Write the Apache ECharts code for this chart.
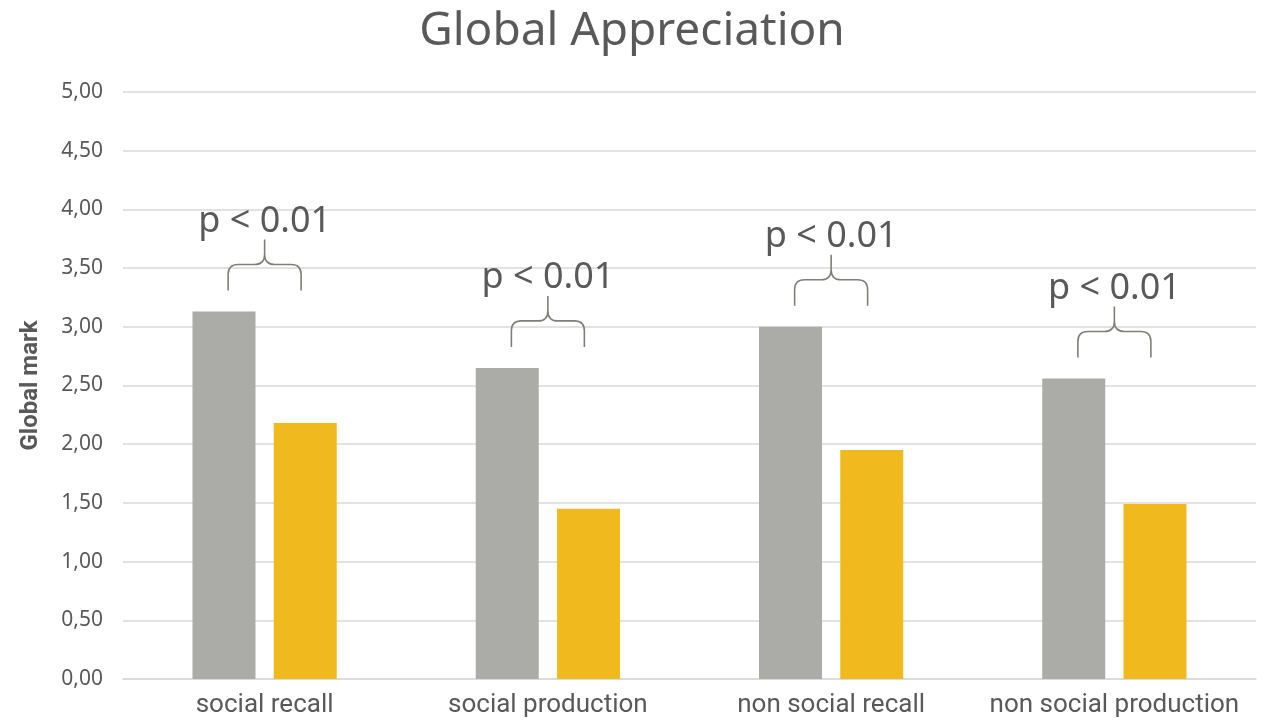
<!DOCTYPE html>
<html>
<head>
<meta charset="utf-8">
<title>Global Appreciation</title>
<script src="https://cdn.jsdelivr.net/npm/echarts@6/dist/echarts.min.js"></script>
<style>
  html, body { margin: 0; padding: 0; background: #ffffff; }
  #chart { width: 1264px; height: 727px; }
</style>
</head>
<body>
<div id="chart"></div>
<script>
// Categories and mean marks for the two groups
const categories = ['social recall', 'social production', 'non social recall', 'non social production'];
const groupA = [3.13, 2.65, 3.00, 2.56];
const groupB = [2.18, 1.45, 1.95, 1.49];
const significance = ['p < 0.01', 'p < 0.01', 'p < 0.01', 'p < 0.01'];
const yTicks = { min: 0, max: 5, step: 0.5 };

const TEXT = '#595959';
const GRID = '#D9D9D9';
const GREY = '#ABABA7';
const GOLD = '#F0BA1F';
const ROUND_FONT = '"Noto Sans", "Open Sans", sans-serif';
const NARROW_FONT = '"Roboto", "Noto Sans", sans-serif';

const chart = echarts.init(document.getElementById('chart'), null, { renderer: 'canvas' });

// Curly brace with a label, sitting above the taller bar of each pair
function renderBrace(params, api) {
  const p = api.coord([api.value(0), api.value(1)]);
  const cx = p[0];
  const by = p[1] - 21;      // brace foot, a little above the bar top
  const w = 36.5;            // half width of the brace
  const hy = by - 26;        // horizontal stroke
  const ty = by - 51;        // centre tip
  const r = 10;
  const d =
    `M${cx - w},${by} L${cx - w},${hy + r} Q${cx - w},${hy} ${cx - w + r},${hy} ` +
    `L${cx - r},${hy} Q${cx},${hy} ${cx},${hy - r} L${cx},${ty} ` +
    `M${cx + w},${by} L${cx + w},${hy + r} Q${cx + w},${hy} ${cx + w - r},${hy} ` +
    `L${cx + r},${hy} Q${cx},${hy} ${cx},${hy - r}`;
  return {
    type: 'group',
    children: [
      {
        type: 'path',
        shape: { pathData: d },
        style: { stroke: '#7F7F78', lineWidth: 1.6, fill: null }
      },
      {
        type: 'text',
        style: {
          text: significance[params.dataIndex],
          x: cx,
          y: ty - 18,
          align: 'center',
          verticalAlign: 'middle',
          font: '36px ' + ROUND_FONT,
          fill: TEXT
        }
      }
    ]
  };
}

const option = {
  backgroundColor: '#ffffff',
  animation: false,
  title: {
    text: 'Global Appreciation',
    left: 'center',
    top: 4,
    textStyle: { fontFamily: ROUND_FONT, fontSize: 46, fontWeight: 'normal', color: TEXT }
  },
  grid: { left: 123, right: 8, top: 92, bottom: 48, containLabel: false },
  xAxis: {
    type: 'category',
    data: categories,
    axisLine: { show: true, lineStyle: { color: GRID, width: 1.5 } },
    axisTick: { show: false },
    axisLabel: {
      margin: 13,
      fontFamily: NARROW_FONT,
      fontSize: 26,
      color: TEXT,
      interval: 0
    }
  },
  yAxis: {
    type: 'value',
    min: yTicks.min,
    max: yTicks.max,
    interval: yTicks.step,
    name: 'Global mark',
    nameLocation: 'middle',
    nameGap: 80,
    nameRotate: 90,
    nameTextStyle: { fontFamily: NARROW_FONT, fontSize: 24, fontWeight: 'bold', color: TEXT },
    axisLine: { show: false },
    axisTick: { show: false },
    splitLine: { lineStyle: { color: GRID, width: 1.5 } },
    axisLabel: {
      margin: 20,
      fontFamily: ROUND_FONT,
      fontSize: 21,
      color: TEXT,
      formatter: v => v.toFixed(2).replace('.', ',')
    }
  },
  series: [
    {
      type: 'bar',
      data: groupA,
      barWidth: 63,
      barGap: '29%',
      itemStyle: { color: GREY }
    },
    {
      type: 'bar',
      data: groupB,
      barWidth: 63,
      barGap: '29%',
      itemStyle: { color: GOLD }
    },
    {
      type: 'custom',
      renderItem: renderBrace,
      data: groupA.map((v, i) => [i, Math.max(v, groupB[i])]),
      encode: { x: 0, y: 1 },
      z: 5,
      silent: true
    }
  ]
};

chart.setOption(option);
</script>
</body>
</html>
